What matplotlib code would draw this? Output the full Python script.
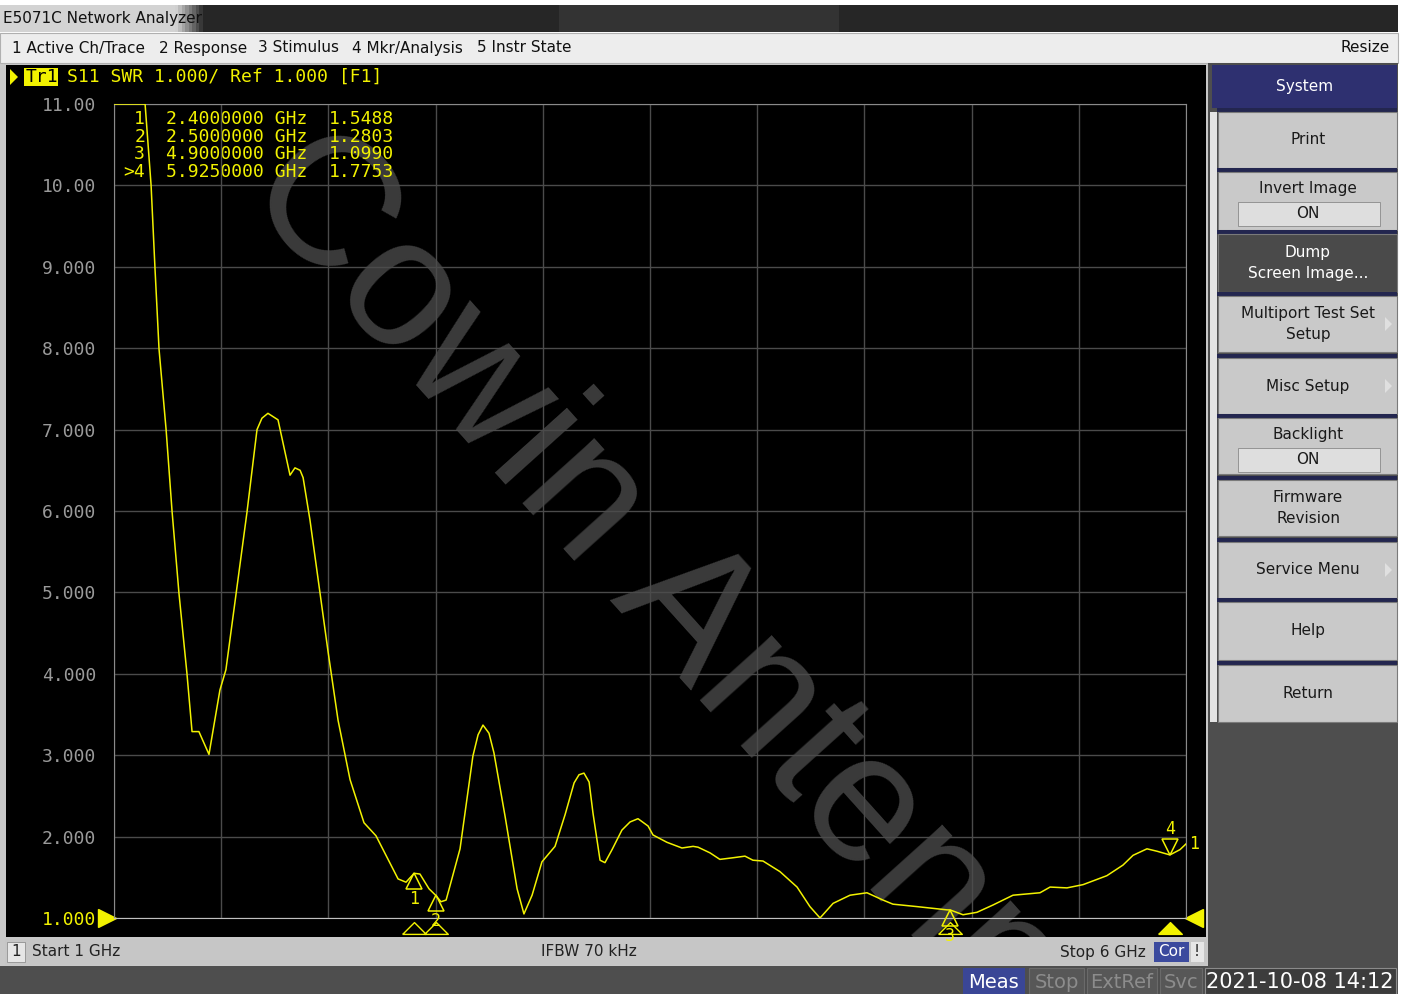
import matplotlib
matplotlib.use("Agg")
import matplotlib.pyplot as plt
import matplotlib.transforms as mtransforms
from matplotlib.patches import Rectangle, Polygon
import numpy as np

# S11 SWR trace (GHz, SWR)
freq_ghz = [1.000, 1.145, 1.173, 1.191, 1.210, 1.243, 1.271, 1.303, 1.340, 1.364, 1.396,
            1.443, 1.494, 1.522, 1.620, 1.667, 1.690, 1.718, 1.765, 1.788, 1.821, 1.844,
            1.868, 1.882, 1.914, 1.961, 1.998, 2.045, 2.101, 2.166, 2.222, 2.325, 2.362,
            2.400, 2.427, 2.469, 2.500, 2.525, 2.549, 2.614, 2.674, 2.698, 2.721, 2.749,
            2.772, 2.824, 2.880, 2.912, 2.950, 2.996, 3.057, 3.104, 3.146, 3.169, 3.192,
            3.216, 3.234, 3.267, 3.290, 3.323, 3.369, 3.407, 3.444, 3.491, 3.514, 3.579,
            3.649, 3.701, 3.724, 3.780, 3.826, 3.887, 3.943, 3.980, 4.027, 4.106, 4.186,
            4.246, 4.293, 4.354, 4.433, 4.512, 4.587, 4.633, 4.745, 4.885, 4.900, 4.960,
            5.025, 5.100, 5.193, 5.319, 5.366, 5.445, 5.520, 5.631, 5.706, 5.753, 5.818,
            5.865, 5.925, 5.972, 6.000]
swr = [11.00, 11.00, 10.00, 8.99, 7.99, 7.00, 5.99, 4.99, 4.01, 3.29, 3.29,
       3.01, 3.80, 4.05, 5.98, 7.00, 7.14, 7.20, 7.12, 6.84, 6.44, 6.53,
       6.50, 6.41, 5.89, 4.99, 4.28, 3.43, 2.70, 2.17, 2.01, 1.48, 1.44,
       1.549, 1.54, 1.36, 1.280, 1.20, 1.22, 1.85, 2.99, 3.25, 3.37, 3.27,
       3.03, 2.25, 1.36, 1.05, 1.28, 1.69, 1.88, 2.27, 2.66, 2.76, 2.78,
       2.67, 2.29, 1.71, 1.68, 1.84, 2.08, 2.18, 2.22, 2.13, 2.02, 1.93,
       1.86, 1.88, 1.87, 1.80, 1.72, 1.74, 1.76, 1.71, 1.70, 1.57, 1.38,
       1.14, 1.00, 1.18, 1.28, 1.31, 1.22, 1.17, 1.14, 1.10, 1.099, 1.04,
       1.07, 1.16, 1.28, 1.31, 1.38, 1.37, 1.41, 1.52, 1.65, 1.77, 1.85,
       1.82, 1.775, 1.84, 1.91]

marker_ids = ["1", "2", "3", "4"]
marker_freq = [2.4, 2.5, 4.9, 5.925]
marker_swr = [1.5488, 1.2803, 1.0990, 1.7753]
active_marker = "4"

y_ticks = [1, 2, 3, 4, 5, 6, 7, 8, 9, 10, 11]
y_labels = ["1.000", "2.000", "3.000", "4.000", "5.000", "6.000",
            "7.000", "8.000", "9.000", "10.00", "11.00"]

start_ghz, stop_ghz = 1, 6
scale_div, ref_val = 1.000, 1.000
ifbw = "70 kHz"
stamp = "2021-10-08 14:12"

YEL = "#f2f200"
MONO = "DejaVu Sans Mono"
UI = "DejaVu Sans"

W, H = 1408, 994
fig = plt.figure(figsize=(W / 100, H / 100), dpi=100)
bg = fig.add_axes([0, 0, 1, 1])
bg.axis("off")


def box(x0, y0, x1, y1, fc, ec="none", lw=0, z=2):
    r = Rectangle((x0, y0), x1 - x0, y1 - y0, facecolor=fc, edgecolor=ec, linewidth=lw, zorder=z)
    bg.add_patch(r)
    return r


def txt(x, y, s, **kw):
    kw.setdefault("va", "center")
    kw.setdefault("family", UI)
    kw.setdefault("zorder", 4)
    return bg.text(x, y, s, **kw)


box(0, 0, W, H, "white", z=0)

# title bar with gradient
ramp = np.linspace(0, 1, 400)
shade = 0.15 + 0.68 * np.clip(1 - (ramp - 0.125) / 0.02, 0, 1)
shade[160:240] += 0.05
grad = np.repeat(shade[None, :, None], 3, axis=2)
bg.imshow(grad, extent=(0, 1398, 32, 5), aspect="auto", zorder=2)
txt(3, 19, "E5071C Network Analyzer", fontsize=11, color="#111111")

# menu bar
box(0, 33, 1398, 63, "#ededed", ec="#b0b0b0", lw=0.8)
for x, s in [(12, "1 Active Ch/Trace"), (159, "2 Response"), (258, "3 Stimulus"),
             (352, "4 Mkr/Analysis"), (477, "5 Instr State")]:
    txt(x, 48, s, fontsize=11, color="#111111")
txt(1390, 48, "Resize", fontsize=11, color="#111111", ha="right")

# main black panel (watermark sits between it and the surrounding chrome)
box(0, 63, 1208, 966, "#c8c8c8", z=0.5)
box(6, 65, 1206, 937, "black", z=1)
bg.text(688, 617, "Cowin Antenna", rotation=-48, rotation_mode="anchor",
        fontsize=132, color="#3b3b3b", ha="center", va="center",
        family="Liberation Sans", zorder=1.5)

# header
bg.add_patch(Polygon([(10, 69), (18, 77), (10, 85)], closed=True, facecolor=YEL, zorder=3))
box(24, 68, 58, 86, YEL, z=3)
txt(26, 77, "Tr1", family=MONO, fontsize=13, color="black")
txt(67, 77, f"S11 SWR {scale_div:.3f}/ Ref {ref_val:.3f} [F1]", family=MONO,
    fontsize=13, color=YEL)

# marker table
for i, (m, f, v) in enumerate(zip(marker_ids, marker_freq, marker_swr)):
    y = 119 + i * 17.7
    lab = (">" + m) if m == active_marker else m
    txt(145, y, lab, family=MONO, fontsize=13, color=YEL, ha="right")
    txt(166, y, f"{f:.7f} GHz", family=MONO, fontsize=13, color=YEL)
    txt(329, y, f"{v:.4f}", family=MONO, fontsize=13, color=YEL)

# channel status bar
box(0, 937, 1208, 966, "#c8c8c8", z=2)
box(5, 939, 1207, 965, "#c6c6c6", z=2)
box(7, 942, 25, 962, "#e6e6e6", ec="#909090", lw=0.6, z=3)
txt(16, 952, "1", fontsize=11, color="#222222", ha="center")
txt(32, 952, f"Start {start_ghz} GHz", fontsize=11, color="#222222")
txt(589, 952, f"IFBW {ifbw}", fontsize=11, color="#222222", ha="center")
txt(1146, 952, f"Stop {stop_ghz} GHz", fontsize=11, color="#222222", ha="right")
box(1154, 942, 1189, 962, "#3b4a9e", z=3)
txt(1171, 952, "Cor", fontsize=11, color="white", ha="center")
box(1191, 942, 1204, 962, "#e6e6e6", z=3)
txt(1197, 952, "!", fontsize=11, color="#222222", ha="center")

# bottom instrument bar
box(0, 966, 1398, 994, "#4e4e4e")
box(963, 968, 1025, 994, "#3a4696", z=3)
txt(994, 982, "Meas", fontsize=14, color="white", ha="center")
for x0, x1, s in [(1029, 1084, "Stop"), (1087, 1157, "ExtRef"), (1160, 1202, "Svc")]:
    box(x0, 968, x1, 994, "#575757", ec="#6a6a6a", lw=0.8, z=3)
    txt((x0 + x1) / 2, 982, s, fontsize=14, color="#8c8c8c", ha="center")
box(1205, 968, 1396, 994, "#3c3c3c", ec="#8a8a8a", lw=0.8, z=3)
txt(1300, 982, stamp, fontsize=15, color="white", ha="center")

# softkey panel
box(1208, 63, 1398, 966, "#4e4e4e")
box(1212, 65, 1397, 108, "#2e3070", z=3)
txt(1305, 86, "System", fontsize=11, color="white", ha="center")
box(1210, 112, 1217, 722, "#e4e4e4", z=3)
keys = [("Print", 112, 168, "n"), ("Invert Image", 172, 230, "on"),
        ("Dump\nScreen Image...", 234, 292, "dark"), ("Multiport Test Set\nSetup", 296, 352, "arr"),
        ("Misc Setup", 358, 414, "arr"), ("Backlight", 418, 474, "on"),
        ("Firmware\nRevision", 480, 536, "n"), ("Service Menu", 542, 598, "arr"),
        ("Help", 602, 660, "n"), ("Return", 665, 722, "n")]
for lab, y0, y1, kind in keys:
    box(1217, y0 - 4, 1397, y0, "#23264f", z=3)
    fc = "#4a4a4a" if kind == "dark" else "#c9c9c9"
    box(1218, y0, 1397, y1, fc, ec="#7a7a7a", lw=0.8, z=3)
    tc = "white" if kind == "dark" else "#1a1a1a"
    if kind == "on":
        txt(1308, y0 + 17, lab, fontsize=11, color=tc, ha="center")
        box(1238, y0 + 30, 1380, y0 + 54, "#dedede", ec="#8a8a8a", lw=0.6, z=3.5)
        txt(1308, y0 + 42, "ON", fontsize=11, color=tc, ha="center")
    else:
        txt(1308, (y0 + y1) / 2, lab, fontsize=11, color=tc, ha="center", linespacing=1.55)
    if kind == "arr":
        yc = (y0 + y1) / 2
        bg.add_patch(Polygon([(1385, yc - 7), (1392, yc), (1385, yc + 7)], closed=True,
                             facecolor="#e0e0e0", zorder=4))

bg.set_xlim(0, W)
bg.set_ylim(H, 0)

# plot area
ax = fig.add_axes([114 / W, 1 - 918 / H, (1186 - 114) / W, (918 - 104) / H])
ax.set_facecolor("none")
ax.plot(freq_ghz, swr, color=YEL, lw=1.1, zorder=3)
ax.set_xlim(start_ghz, stop_ghz)
ax.set_ylim(1, 11)
ax.set_xticks(np.linspace(start_ghz, stop_ghz, 11))
ax.set_xticklabels([])
ax.set_yticks(y_ticks)
ax.set_yticklabels(y_labels, family=MONO, fontsize=13)
for t, lab in zip(ax.get_yticklabels(), y_labels):
    t.set_color(YEL if lab == "1.000" else "#9a9a9a")
ax.tick_params(length=0, pad=13)
ax.grid(color="#4b4b4b", lw=1)
for s in ax.spines.values():
    s.set_color("#8a8a8a")
ax.spines["bottom"].set_color("#c0c0c0")

# reference level triangles
ax.plot([start_ghz], [ref_val], marker=">", ms=13, color=YEL, clip_on=False,
        transform=mtransforms.offset_copy(ax.transData, fig, x=-7, y=0, units="dots"))
ax.plot([stop_ghz], [ref_val], marker="<", ms=13, color=YEL, clip_on=False,
        transform=mtransforms.offset_copy(ax.transData, fig, x=8, y=0, units="dots"))

# markers on the trace
below = mtransforms.offset_copy(ax.transData, fig, x=0, y=-8, units="dots")
above = mtransforms.offset_copy(ax.transData, fig, x=0, y=8, units="dots")
foot = mtransforms.blended_transform_factory(ax.transData, ax.transAxes)
foot_tri = [(-1, -0.5), (1, -0.5), (0, 0.5), (-1, -0.5)]
for m, f, v in zip(marker_ids, marker_freq, marker_swr):
    act = m == active_marker
    if act:
        ax.plot([f], [v], marker="v", ms=11, mfc="none", mec=YEL, mew=1.1,
                transform=above, clip_on=False, zorder=4)
        ax.annotate(m, (f, v), xytext=(0, 17), textcoords="offset pixels", ha="center",
                    va="bottom", color=YEL, fontsize=12, family=MONO)
    else:
        ax.plot([f], [v], marker="^", ms=11, mfc="none", mec=YEL, mew=1.1,
                transform=below, clip_on=False, zorder=4)
        ax.annotate(m, (f, v), xytext=(0, -17), textcoords="offset pixels", ha="center",
                    va="top", color=YEL, fontsize=12, family=MONO)
    ax.plot([f], [-0.0125], marker=foot_tri, ms=17,
            mfc=YEL if act else "none", mec=YEL, mew=1.0, transform=foot,
            clip_on=False, zorder=4)

ax.annotate("1", (freq_ghz[-1], swr[-1]), xytext=(3, 0), textcoords="offset pixels",
            ha="left", va="center", color=YEL, fontsize=12, family=MONO)

fig.savefig("out.png", dpi=100, facecolor="white")
